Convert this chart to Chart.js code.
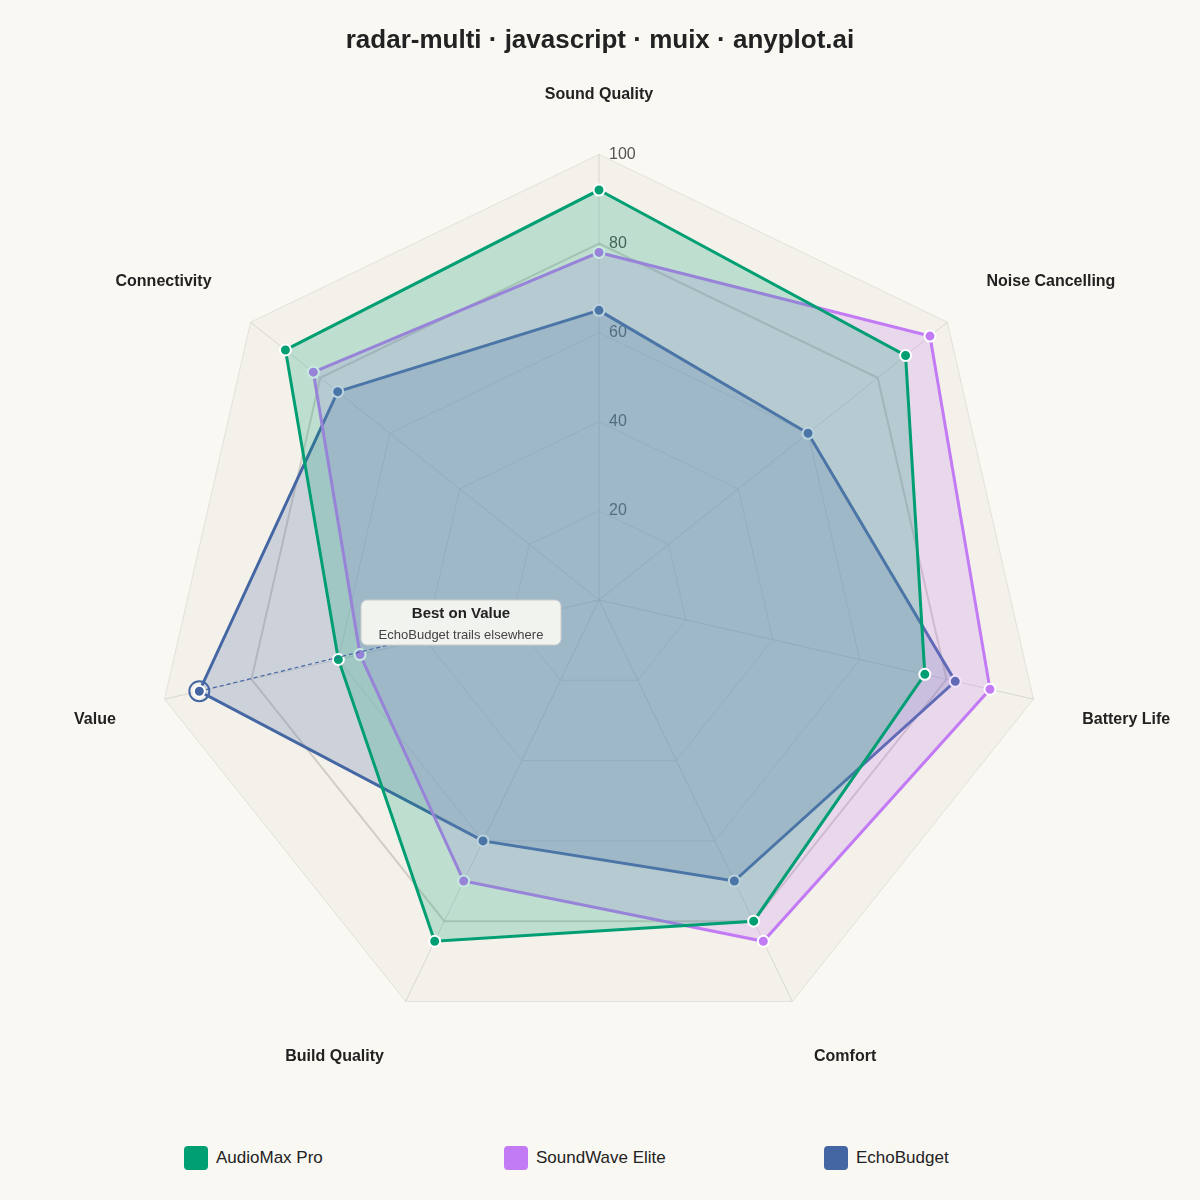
<!DOCTYPE html>
<html><head><meta charset="utf-8">
<script src="https://cdn.jsdelivr.net/npm/chart.js@4/dist/chart.umd.min.js"></script>
<style>
body{margin:0;background:#faf8f2;font-family:"Liberation Sans",Arial,sans-serif;overflow:hidden;}
#wrap{position:relative;width:1200px;height:1200px;overflow:hidden;}
#c{position:absolute;left:23px;top:-25px;}
#title{position:absolute;top:24px;left:0;width:1200px;text-align:center;font-size:26px;font-weight:bold;color:#222;z-index:2;}
#legend{position:absolute;top:1146px;left:0;width:1200px;height:24px;}
.li{position:absolute;display:flex;align-items:center;font-size:17px;color:#222;}
.sw{width:24px;height:24px;border-radius:4px;margin-right:8px;}
</style></head><body>
<div id="wrap"><canvas id="c" width="1200" height="1120"></canvas><div id="title">radar-multi · javascript · muix · anyplot.ai</div><div id="legend"></div></div>
<script>
const categories=["Sound Quality","Noise Cancelling","Battery Life","Comfort","Build Quality","Value","Connectivity"];
const audioMax=[92,88,75,80,85,60,90];
const soundWave=[78,95,90,85,70,55,82];
const echoBudget=[65,60,82,70,60,92,75];
const tickValues=[20,40,60,80,100];
const names=["AudioMax Pro","SoundWave Elite","EchoBudget"];
const colors=["#009E73","#C27BF5","#4466A3"];
const fills=["rgba(0,158,115,0.22)","rgba(194,123,245,0.22)","rgba(68,102,163,0.22)"];
const series=[audioMax,soundWave,echoBudget];

const lg=document.getElementById('legend');
[184,504,824].forEach((x,i)=>{const d=document.createElement('div');d.className='li';d.style.left=x+'px';
d.innerHTML='<div class="sw" style="background:'+colors[i]+'"></div>'+names[i];lg.appendChild(d);});

const bgPlugin={id:'bg',beforeDatasetsDraw(ch){
 const s=ch.scales.r,ctx=ch.ctx;ctx.save();
 ctx.font='16px "Liberation Sans",Arial';ctx.fillStyle='#555';ctx.textAlign='left';ctx.textBaseline='middle';
 tickValues.forEach(v=>{const p=s.getPointPositionForValue(0,v);ctx.fillText(String(v),p.x+10,p.y);});
 ctx.restore();},
 beforeDraw(ch){const s=ch.scales.r,ctx=ch.ctx;ctx.save();ctx.beginPath();
 categories.forEach((c,i)=>{const p=s.getPointPositionForValue(i,100);i?ctx.lineTo(p.x,p.y):ctx.moveTo(p.x,p.y);});
 ctx.closePath();ctx.fillStyle='#f4f1ea';ctx.fill();ctx.restore();}};
const annPlugin={id:'ann',afterDatasetsDraw(ch){
 const s=ch.scales.r,ctx=ch.ctx;const p=s.getPointPositionForValue(5,echoBudget[5]);
 ctx.save();ctx.strokeStyle='#4466A3';ctx.lineWidth=2;ctx.beginPath();ctx.arc(p.x,p.y,10,0,Math.PI*2);ctx.stroke();
 const bx=361-23,by=600+25,bw=200,bh=45;
 ctx.setLineDash([4,3]);ctx.lineWidth=1.2;ctx.beginPath();ctx.moveTo(p.x,p.y);ctx.lineTo(bx+40,by+bh-3);ctx.stroke();ctx.setLineDash([]);
 ctx.fillStyle='rgba(245,245,240,0.95)';ctx.strokeStyle='#ccc';ctx.lineWidth=1;
 ctx.beginPath();ctx.roundRect(bx,by,bw,bh,6);ctx.fill();ctx.stroke();
 ctx.fillStyle='#222';ctx.textAlign='center';ctx.textBaseline='middle';
 ctx.font='bold 15px "Liberation Sans",Arial';ctx.fillText('Best on Value',bx+bw/2,by+14);
 ctx.font='13px "Liberation Sans",Arial';ctx.fillStyle='#444';ctx.fillText('EchoBudget trails elsewhere',bx+bw/2,by+35);
 ctx.restore();}};

new Chart(document.getElementById('c'),{type:'radar',
 data:{labels:categories,datasets:series.map((d,i)=>({label:names[i],data:d,borderColor:colors[i],backgroundColor:fills[i],
  borderWidth:3,pointRadius:5.5,pointBackgroundColor:colors[i],pointBorderColor:'#fff',pointBorderWidth:2,fill:true}))},
 options:{responsive:false,animation:false,
  layout:{padding:{top:6,bottom:6,left:6,right:6}},
  plugins:{legend:{display:false},tooltip:{enabled:false},
   title:{display:true,text:' ',font:{size:26},padding:{top:26,bottom:20}}},
  scales:{r:{min:0,max:100,ticks:{display:false,stepSize:20},
   grid:{color:ctx=>ctx.index===4?'#d2cec6':'rgba(200,200,200,0.45)',lineWidth:ctx=>ctx.index===4?2:1},
   angleLines:{color:'rgba(190,190,190,0.5)'},
   pointLabels:{color:'#222',font:{size:16,weight:'bold',family:'"Liberation Sans",Arial'},padding:50}}}},
 plugins:[bgPlugin,annPlugin]});
</script></body></html>
